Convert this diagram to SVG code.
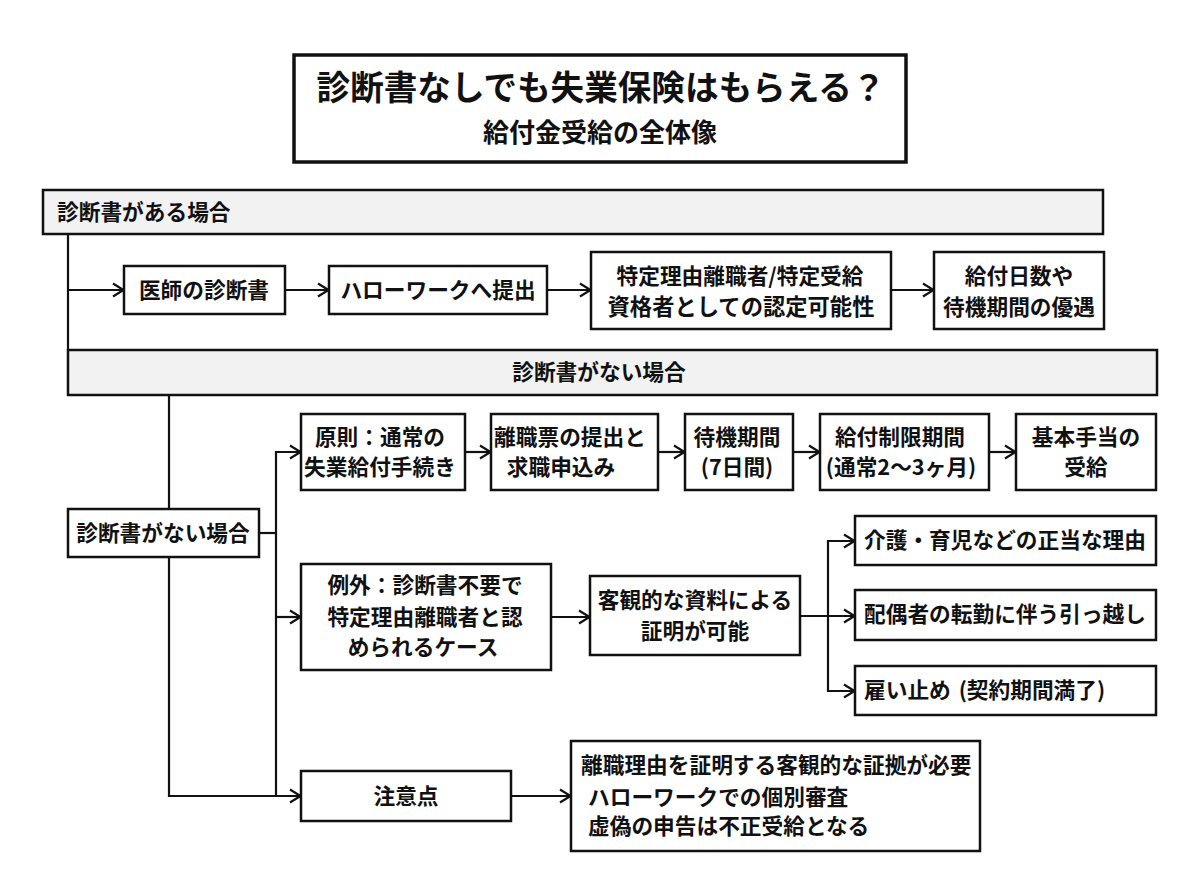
<svg xmlns="http://www.w3.org/2000/svg" width="1200" height="896" viewBox="0 0 1200 896">
<style>
text{font-family:"Noto Sans CJK JP","Noto Sans",sans-serif;font-weight:700;font-size:21.7px;fill:#111;text-anchor:middle}
.s{text-anchor:start}
rect{fill:#fff;stroke:#111;stroke-width:2.5}
.h rect{fill:#f2f2f2}
#connectors path{fill:none;stroke:#111;stroke-width:2.2}
</style>
<defs><marker id="a" markerUnits="userSpaceOnUse" markerWidth="16" markerHeight="20" refX="14" refY="10" orient="auto"><path d="M3 3.5L13.5 10L3 16.500" fill="none" stroke="#111" stroke-width="2.2"/></marker></defs>
<rect width="1200" height="896" style="fill:#fff;stroke:none"/>
<g id="connectors">
<path d="M68 234V350"/>
<path d="M68 290H124" marker-end="url(#a)"/>
<path d="M285 290H329" marker-end="url(#a)"/>
<path d="M547 290H591" marker-end="url(#a)"/>
<path d="M891 290H934" marker-end="url(#a)"/>
<path d="M169 395V509"/>
<path d="M169 557V796H301" marker-end="url(#a)"/>
<path d="M259 533H276"/>
<path d="M276 796V452H301" marker-end="url(#a)"/>
<path d="M276 617H301" marker-end="url(#a)"/>
<path d="M465 452H491" marker-end="url(#a)"/>
<path d="M658 452H685" marker-end="url(#a)"/>
<path d="M793 452H820" marker-end="url(#a)"/>
<path d="M989 452H1016" marker-end="url(#a)"/>
<path d="M551 617H590" marker-end="url(#a)"/>
<path d="M800 616H855" marker-end="url(#a)"/>
<path d="M828 616V541H855" marker-end="url(#a)"/>
<path d="M828 616V691H855" marker-end="url(#a)"/>
<path d="M511 796H571" marker-end="url(#a)"/>
</g>
<g id="title"><rect x="294" y="55" width="612" height="107" style="stroke-width:3.5"/><text x="601" y="100" style="font-size:33.6px">診断書なしでも失業保険はもらえる？</text><text x="600" y="142" style="font-size:26px">給付金受給の全体像</text></g>
<g id="h1" class="h"><rect x="43" y="190" width="1060" height="44"/><text class="s" x="57" y="220">診断書がある場合</text></g>
<g id="n1"><rect x="124" y="266" width="161" height="48"/><text x="204" y="298">医師の診断書</text></g>
<g id="n2"><rect x="329" y="266" width="218" height="48"/><text x="438" y="298">ハローワークへ提出</text></g>
<g id="n3"><rect x="591" y="252" width="300" height="77"/><text x="740" y="284">特定理由離職者/特定受給</text><text x="741" y="315" style="font-size:22.3px">資格者としての認定可能性</text></g>
<g id="n4"><rect x="934" y="252" width="170" height="77"/><text x="1019" y="284">給付日数や</text><text x="1019" y="315">待機期間の優遇</text></g>
<g id="h2" class="h"><rect x="68" y="350" width="1089" height="45"/><text x="599" y="380">診断書がない場合</text></g>
<g id="n5"><rect x="68" y="509" width="191" height="48"/><text x="163" y="541">診断書がない場合</text></g>
<g id="n6"><rect x="301" y="414" width="164" height="76"/><text x="380" y="445">原則：通常の</text><text x="380" y="475">失業給付手続き</text></g>
<g id="n7"><rect x="491" y="414" width="167" height="76"/><text x="570" y="445">離職票の提出と</text><text x="561" y="475">求職申込み</text></g>
<g id="n8"><rect x="685" y="414" width="108" height="76"/><text x="737" y="445">待機期間</text><text x="737" y="475">(7日間)</text></g>
<g id="n9"><rect x="820" y="414" width="169" height="76"/><text x="900" y="445">給付制限期間</text><text x="901" y="475">(通常2〜3ヶ月)</text></g>
<g id="n10"><rect x="1016" y="414" width="140" height="76"/><text x="1086" y="445">基本手当の</text><text x="1086" y="475">受給</text></g>
<g id="n11"><rect x="301" y="564" width="250" height="106"/><text x="425" y="593">例外：診断書不要で</text><text x="425" y="625">特定理由離職者と認</text><text x="423" y="655">められるケース</text></g>
<g id="n12"><rect x="590" y="576" width="210" height="79"/><text x="695" y="608">客観的な資料による</text><text x="695" y="639">証明が可能</text></g>
<g id="n13"><rect x="855" y="516" width="301" height="49"/><text class="s" x="864" y="548">介護・育児などの正当な理由</text></g>
<g id="n14"><rect x="855" y="590" width="301" height="50"/><text class="s" x="864" y="622">配偶者の転勤に伴う引っ越し</text></g>
<g id="n15"><rect x="855" y="666" width="301" height="49"/><text class="s" x="864" y="698" style="word-spacing:3px">雇い止め (契約期間満了)</text></g>
<g id="n16"><rect x="301" y="771" width="210" height="50"/><text x="406" y="804">注意点</text></g>
<g id="n17"><rect x="571" y="741" width="409" height="110"/><text class="s" x="581" y="773">離職理由を証明する客観的な証拠が必要</text><text class="s" x="588" y="805">ハローワークでの個別審査</text><text class="s" x="588" y="834">虚偽の申告は不正受給となる</text></g>
</svg>
